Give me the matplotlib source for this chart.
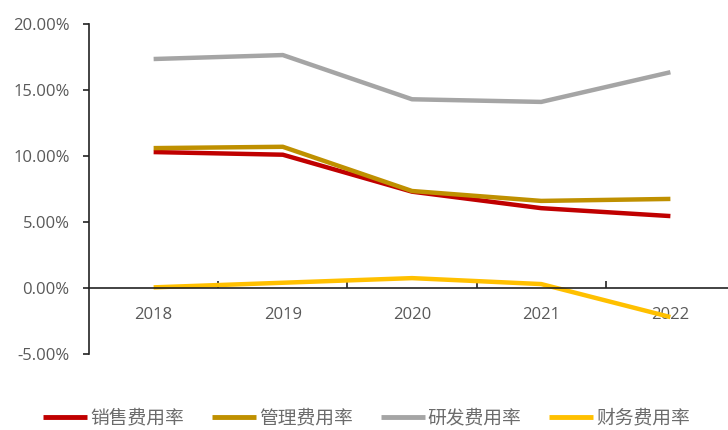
import numpy as np
import matplotlib
matplotlib.use("Agg")
from matplotlib import pyplot as plt
from matplotlib.ticker import FuncFormatter

plt.rcParams['font.family'] = ['Open Sans', 'Noto Sans CJK SC', 'DejaVu Sans']

years = ['2018', '2019', '2020', '2021', '2022']
xiaoshou = [10.3, 10.1, 7.3, 6.05, 5.45]     # 销售费用率
guanli = [10.6, 10.7, 7.35, 6.6, 6.75]       # 管理费用率
yanfa = [17.35, 17.65, 14.3, 14.1, 16.35]    # 研发费用率
caiwu = [0.05, 0.4, 0.75, 0.3, -2.2]         # 财务费用率

names = ['销售费用率', '管理费用率', '研发费用率', '财务费用率']
colors = ['#C00000', '#BF9000', '#A5A5A5', '#FFC000']
series = [xiaoshou, guanli, yanfa, caiwu]

fig = plt.figure(figsize=(7.28, 4.30), dpi=100)
ax = fig.add_axes([0.1223, 0.1767, 0.8873, 0.7674])

x = np.arange(len(years))
for vals, c, n in zip(series, colors, names):
    ax.plot(x, vals, color=c, lw=3.2, label=n, solid_capstyle='butt')

ax.set_xlim(-0.5, 4.5)
ax.set_ylim(-5, 20)
ax.set_yticks(np.arange(-5, 20.1, 5))
ax.yaxis.set_major_formatter(FuncFormatter(lambda v, p: f'{v:.2f}%'))

for s in ['top', 'right']:
    ax.spines[s].set_visible(False)
ax.spines['bottom'].set_position(('data', 0))
ax.spines['bottom'].set_color('#222222')
ax.spines['left'].set_color('#222222')
ax.spines['bottom'].set_linewidth(1.2)
ax.spines['left'].set_linewidth(1.2)

# boundary ticks on the zero line, year labels at the centres
ax.set_xticks([0.5, 1.5, 2.5, 3.5])
ax.set_xticklabels([])
ax.tick_params(axis='x', which='major', direction='in', length=5, width=1.2, color='#222222')
ax.set_xticks(x, minor=True)
ax.set_xticklabels(years, minor=True)
ax.tick_params(axis='x', which='minor', length=0, pad=14, labelsize=12, labelcolor='#595959')
ax.tick_params(axis='y', direction='out', length=4, width=1.2, color='#222222',
               pad=10, labelsize=12, labelcolor='#595959')

leg = fig.legend(loc='center', bbox_to_anchor=(0.5035, 0.027), ncol=4, frameon=False,
                 fontsize=13.5, handlelength=2.35, handletextpad=0.15, columnspacing=1.5,
                 borderpad=0.0)
for t in leg.get_texts():
    t.set_color('#6b6b6b')
for h in leg.get_lines():
    h.set_linewidth(3.5)

fig.savefig('out.png', dpi=100, facecolor='white')
